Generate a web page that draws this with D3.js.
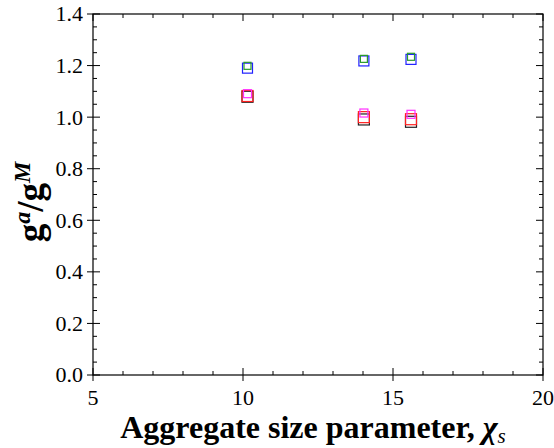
<!DOCTYPE html>
<html>
<head>
<meta charset="utf-8">
<script src="https://cdn.jsdelivr.net/npm/d3@7"></script>
<style>
	body { margin: 0; background: #fff; }
	svg { display: block; }
	text { font-family: "Liberation Serif", "Times New Roman", serif; }
</style>
</head>
<body>
<div id="chart"></div>
<script>
// aggregate size parameters (x positions of the three clusters)
var sizeParams = [10.15, 14.03, 15.6];

// g^a/g^M for each series
var greenVals   = [1.199, 1.226, 1.234];
var blueVals    = [1.190, 1.218, 1.224];
var magentaVals = [1.091, 1.016, 1.011];
var redVals     = [1.082, 1.000, 0.992];
var blackVals   = [1.079, 0.991, 0.982];

// axis ticks
var xTicks = [5, 10, 15, 20];
var yTicks = [0.0, 0.2, 0.4, 0.6, 0.8, 1.0, 1.2, 1.4];

var series = [
	{ vals: blackVals,   color: "#222",    size: 11 },
	{ vals: redVals,     color: "#ff2020", size: 11 },
	{ vals: magentaVals, color: "#ff30ff", size: 8 },
	{ vals: blueVals,    color: "#2020ff", size: 10 },
	{ vals: greenVals,   color: "#2a9a2a", size: 7 }
];

var W = 554, H = 448;
var m = { left: 93, right: 11, top: 14, bottom: 73 };

var svg = d3.select("#chart").append("svg")
	.attr("width", W)
	.attr("height", H)
	.attr("font-family", "Liberation Serif");

var x = d3.scaleLinear().domain([5, 20]).range([m.left, W - m.right]);
var y = d3.scaleLinear().domain([0, 1.4]).range([H - m.bottom, m.top]);

var x0 = x.range()[0], x1 = x.range()[1];
var y0 = y.range()[0], y1 = y.range()[1];

var g = svg.append("g");

// frame
g.append("rect")
	.attr("x", x0).attr("y", y1)
	.attr("width", x1 - x0).attr("height", y0 - y1)
	.attr("fill", "none").attr("stroke", "#000").attr("stroke-width", 1.2);

// x ticks (minor every 1, major every 5)
var xMinor = d3.range(5, 20.001, 1);
xMinor.forEach(function (v) {
	var major = (v % 5 === 0);
	var len = major ? 7 : 4;
	// bottom
	g.append("line")
		.attr("x1", x(v)).attr("x2", x(v))
		.attr("y1", y0 - len).attr("y2", major ? y0 + 6 : y0)
		.attr("stroke", "#000").attr("stroke-width", 1);
	// top
	g.append("line")
		.attr("x1", x(v)).attr("x2", x(v))
		.attr("y1", y1).attr("y2", y1 + len)
		.attr("stroke", "#000").attr("stroke-width", 1);
});

// y ticks (minor every 0.05, major every 0.2)
var yMinor = d3.range(0, 28.5, 1).map(function (i) { return i * 0.05; });
yMinor.forEach(function (v, i) {
	var major = (i % 4 === 0);
	var len = major ? 7 : 4;
	// left
	g.append("line")
		.attr("x1", major ? x0 - 6 : x0).attr("x2", x0 + len)
		.attr("y1", y(v)).attr("y2", y(v))
		.attr("stroke", "#000").attr("stroke-width", 1);
	// right
	g.append("line")
		.attr("x1", x1 - len).attr("x2", x1)
		.attr("y1", y(v)).attr("y2", y(v))
		.attr("stroke", "#000").attr("stroke-width", 1);
});

// tick labels
g.selectAll(".xlab").data(xTicks).enter().append("text")
	.attr("x", function (d) { return x(d); })
	.attr("y", y0 + 30)
	.attr("text-anchor", "middle")
	.attr("font-size", 22)
	.text(function (d) { return d; });

g.selectAll(".ylab").data(yTicks).enter().append("text")
	.attr("x", x0 - 10)
	.attr("y", function (d) { return y(d); })
	.attr("dy", "0.34em")
	.attr("text-anchor", "end")
	.attr("font-size", 22)
	.text(function (d) { return d.toFixed(1); });

// markers
series.forEach(function (s) {
	g.selectAll(null).data(s.vals).enter().append("rect")
		.attr("x", function (d, i) { return x(sizeParams[i]) - s.size / 2; })
		.attr("y", function (d) { return y(d) - s.size / 2; })
		.attr("width", s.size).attr("height", s.size)
		.attr("fill", "none")
		.attr("stroke", s.color)
		.attr("stroke-width", 1.2);
});

// x axis title
var xt = svg.append("text")
	.attr("x", 313)
	.attr("y", 438)
	.attr("text-anchor", "middle")
	.attr("font-size", 32)
	.attr("font-weight", "bold");
xt.append("tspan").text("Aggregate size parameter, ");
xt.append("tspan").attr("font-style", "italic").text("χ");
xt.append("tspan").attr("font-style", "italic").attr("font-weight", "normal")
	.attr("font-size", 21).attr("dy", 5).text("s");

// y axis title
var yt = svg.append("text")
	.attr("transform", "translate(43,202) rotate(-90)")
	.attr("text-anchor", "middle")
	.attr("font-size", 37)
	.attr("font-weight", "bold");
yt.append("tspan").text("g");
yt.append("tspan").attr("font-style", "italic").attr("font-size", 24).attr("dy", -13).text("a");
yt.append("tspan").attr("dy", 13).text("/g");
yt.append("tspan").attr("font-style", "italic").attr("font-size", 24).attr("dy", -13).text("M");
</script>
</body>
</html>
